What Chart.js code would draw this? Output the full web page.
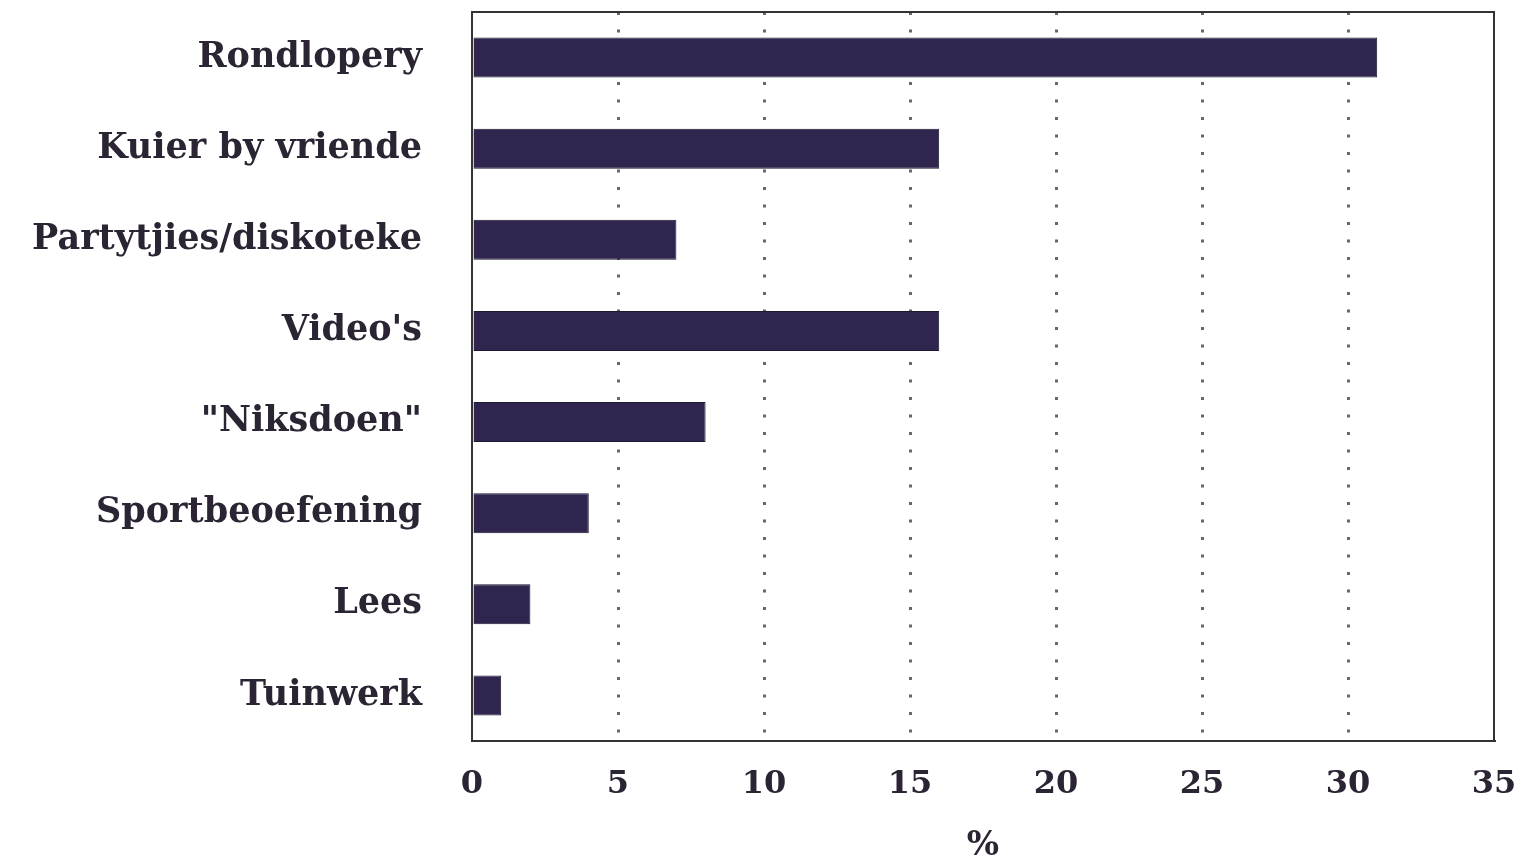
<!DOCTYPE html>
<html>
<head>
<meta charset="utf-8">
<script src="https://cdn.jsdelivr.net/npm/chart.js@4"></script>
<style>
  html, body { margin: 0; padding: 0; background: #fff; overflow: hidden; }
  #wrap { width: 1519px; height: 863px; }
</style>
</head>
<body>
<div id="wrap"><canvas id="barChart"></canvas></div>
<script>
const categories = ['Rondlopery', 'Kuier by vriende', 'Partytjies/diskoteke', "Video's", '"Niksdoen"', 'Sportbeoefening', 'Lees', 'Tuinwerk'];
const percentages = [31, 16, 7, 16, 8, 4, 2, 1];
const xTicks = [0, 5, 10, 15, 20, 25, 30, 35];

const ink = '#2b2433';

// frame around the plot area
const frame = {
  id: 'frame',
  afterDraw(chart) {
    const { ctx, chartArea: a } = chart;
    ctx.save();
    ctx.strokeStyle = '#333';
    ctx.lineWidth = 2;
    ctx.strokeRect(a.left, a.top, a.right - a.left, a.bottom - a.top);
    ctx.restore();
  }
};

new Chart(document.getElementById('barChart'), {
  type: 'bar',
  data: {
    labels: categories,
    datasets: [{
      data: percentages,
      backgroundColor: '#2f254e',
      borderColor: '#1e1830',
      borderWidth: 1,
      barPercentage: 0.44,
      categoryPercentage: 1
    }]
  },
  options: {
    indexAxis: 'y',
    responsive: true,
    maintainAspectRatio: false,
    animation: false,
    layout: { padding: { top: 12, right: 25, bottom: 0, left: 0 } },
    plugins: {
      legend: { display: false },
      tooltip: { enabled: false }
    },
    scales: {
      x: {
        min: 0,
        max: 35,
        afterBuildTicks: s => { s.ticks = xTicks.map(v => ({ value: v })); },
        grid: {
          drawTicks: false,
          lineWidth: 3,
          color: c => (c.tick.value === 0 || c.tick.value === 35) ? 'rgba(0,0,0,0)' : '#6a6470'
        },
        border: { display: true, color: '#333', width: 2, dash: [3, 14.5] },
        ticks: { color: ink, font: { family: 'DejaVu Serif', weight: 'bold', size: 32 }, padding: 24 },
        title: {
          display: true,
          text: '%',
          color: ink,
          font: { family: 'DejaVu Serif', weight: 'bold', size: 34, lineHeight: 1 },
          padding: { top: 27, bottom: 0 }
        },
        afterFit: s => { s.height = 122; s.paddingLeft = 0; s.paddingRight = 0; }
      },
      y: {
        grid: { display: false, drawTicks: false },
        border: { display: true, color: '#333', width: 2 },
        ticks: { color: ink, font: { family: 'DejaVu Serif', weight: 'bold', size: 35 }, padding: 50 },
        afterFit: s => { s.width = 472; s.paddingTop = 0; s.paddingBottom = 0; }
      }
    }
  },
  plugins: [frame]
});
</script>
</body>
</html>
